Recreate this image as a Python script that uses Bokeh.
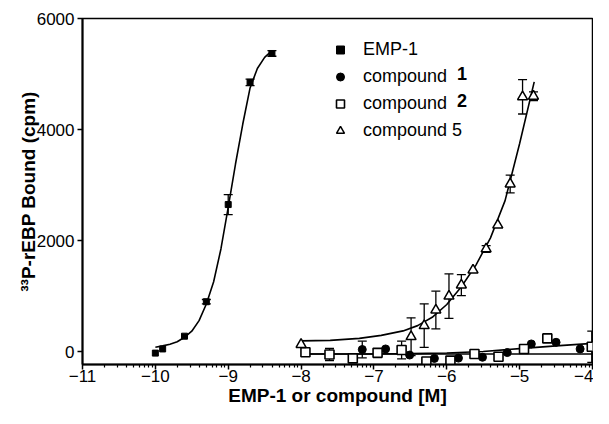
import numpy as np
from bokeh.plotting import figure
from bokeh.models import (Range1d, FixedTicker, Whisker, TeeHead, ColumnDataSource,
                          Legend, LegendItem, Label)
from bokeh.embed import file_html
from bokeh.resources import INLINE

# ---- data ----
emp_x = [-10.0, -9.9, -9.6, -9.3, -9.0, -8.7, -8.4]
emp_y = [-25, 50, 280, 900, 2650, 4850, 5370]
emp_err = [0, 0, 0, 40, 180, 60, 50]
emp_fit_x = [-10.0, -9.9, -9.8, -9.7, -9.6, -9.5, -9.4, -9.3, -9.2, -9.1, -9.0,
             -8.9, -8.8, -8.7, -8.6, -8.5, -8.4]
emp_fit_y = [80, 105, 135, 180, 260, 370, 560, 860, 1260, 1850, 2600,
             3380, 4100, 4750, 5100, 5300, 5420]

c1_x = [-7.16, -6.84, -6.51, -6.17, -5.84, -5.51, -5.17, -4.84, -4.50, -4.17]
c1_y = [40, 50, -60, -120, -115, -100, -15, 140, 170, 50]
c1_err = [150, 0, 0, 0, 0, 0, 0, 0, 0, 0]
c1_fit_x = [-8.0, -7.0, -6.5, -6.0, -5.5, -5.0, -4.5, -4.0]
c1_fit_y = [-40, -38, -35, -22, 5, 55, 105, 150]

c2_x = [-7.94, -7.61, -7.29, -6.95, -6.62, -6.28, -5.95, -5.62, -5.29, -4.94, -4.62, -4.01]
c2_y = [-10, -50, -120, -20, 30, -175, -160, -40, -90, 50, 240, 90]
c2_err = [0, 110, 40, 0, 160, 0, 0, 0, 0, 0, 0, 280]
c2_fit_x = [-8.0, -4.0]
c2_fit_y = [-40, -40]

c5_x = [-8.0, -6.49, -6.31, -6.15, -5.97, -5.80, -5.64, -5.46, -5.30, -5.13, -4.96, -4.81]
c5_y = [130, 270, 470, 750, 1000, 1200, 1470, 1850, 2280, 3020, 4590, 4600]
c5_err = [0, 340, 390, 340, 400, 190, 0, 60, 0, 160, 310, 80]
c5_fit_x = [-8.0, -7.6, -7.2, -6.9, -6.6, -6.4, -6.2, -6.0, -5.8, -5.6, -5.4, -5.2, -5.0, -4.8]
c5_fit_y = [195, 205, 240, 295, 375, 470, 620, 850, 1170, 1560, 2050, 2720, 3750, 4860]

x_ticks = [-11, -10, -9, -8, -7, -6, -5, -4]
y_ticks = [0, 2000, 4000, 6000]
legend_labels = ["EMP-1", "compound", "compound", "compound 5"]
bold_parts = ["1", "2"]

FONT = "Liberation Sans"

p = figure(width=593, height=408, output_backend="svg", toolbar_location=None,
           x_range=Range1d(-11, -4), y_range=Range1d(-230, 6000),
           min_border_left=82, min_border_right=1, min_border_top=18, min_border_bottom=44)
p.xgrid.visible = False
p.ygrid.visible = False
p.outline_line_color = "black"
p.outline_line_width = 1.5
p.background_fill_color = "white"

minor = [n + np.log10(k) for n in range(-11, -4) for k in range(2, 10)]
p.xaxis.ticker = FixedTicker(ticks=x_ticks, minor_ticks=minor)
p.yaxis.ticker = FixedTicker(ticks=y_ticks)
for ax in (p.xaxis[0], p.yaxis[0]):
    ax.axis_line_width = 2
    ax.axis_line_color = "black"
    ax.major_tick_line_width = 1.5
    ax.major_tick_out = 5
    ax.major_tick_in = 0
    ax.minor_tick_out = 3
    ax.minor_tick_in = 0
    ax.minor_tick_line_width = 1.2
    ax.major_label_text_font = FONT
    ax.major_label_text_font_size = "17px"
    ax.major_label_text_color = "black"
    ax.axis_label_text_font = FONT
    ax.axis_label_text_font_style = "bold"
    ax.axis_label_text_font_size = "19px"
    ax.axis_label_text_color = "black"
p.xaxis.major_label_standoff = 0
p.yaxis.major_label_standoff = 3
p.yaxis.minor_tick_out = 0
p.xaxis.axis_label = "EMP-1 or compound [M]"
p.yaxis.axis_label = "\u00b3\u00b3P-rEBP Bound (cpm)"
p.xaxis.axis_label_standoff = 0
p.yaxis.axis_label_standoff = -5


def errbars(xs, ys, es):
    xs = np.array(xs); ys = np.array(ys); es = np.array(es)
    m = es > 0
    src = ColumnDataSource(dict(base=xs[m], upper=ys[m] + es[m], lower=ys[m] - es[m]))
    w = Whisker(source=src, base="base", upper="upper", lower="lower",
                line_color="black", line_width=1.3,
                upper_head=TeeHead(size=9, line_width=1.3, line_color="black"),
                lower_head=TeeHead(size=9, line_width=1.3, line_color="black"))
    p.add_layout(w)


# fitted curves
for fx, fy in [(emp_fit_x, emp_fit_y), (c1_fit_x, c1_fit_y), (c2_fit_x, c2_fit_y), (c5_fit_x, c5_fit_y)]:
    p.line(fx, fy, line_color="black", line_width=1.6)

errbars(emp_x, emp_y, emp_err)
errbars(c1_x, c1_y, c1_err)
errbars(c2_x, c2_y, c2_err)
errbars(c5_x, c5_y, c5_err)

r_emp = p.scatter(emp_x, emp_y, marker="square", size=6, fill_color="black", line_color="black")
r_c1 = p.scatter(c1_x, c1_y, marker="circle", size=8, fill_color="black", line_color="black")
r_c2 = p.scatter(c2_x, c2_y, marker="square", size=9, fill_color="white", line_color="black", line_width=1.6)
r_c5 = p.scatter(c5_x, c5_y, marker="triangle", size=10, fill_color="white", line_color="black", line_width=1.5)

legend = Legend(items=[LegendItem(label=legend_labels[0], renderers=[r_emp]),
                       LegendItem(label=legend_labels[1], renderers=[r_c1]),
                       LegendItem(label=legend_labels[2], renderers=[r_c2]),
                       LegendItem(label=legend_labels[3], renderers=[r_c5])],
                location=(248, 220), border_line_color=None, background_fill_alpha=0,
                label_text_font=FONT, label_text_font_size="18px", label_text_color="black",
                glyph_width=20, glyph_height=27, label_height=27, spacing=0,
                padding=0, margin=0, label_standoff=13)
p.add_layout(legend)

for txt, yv in zip(bold_parts, [5007, 4519]):
    p.add_layout(Label(x=-5.86, y=yv, text=txt, text_font=FONT, text_font_size="18px",
                       text_font_style="bold", text_baseline="middle", text_align="left",
                       text_color="black"))

open("out.html", "w").write(file_html(p, INLINE))
